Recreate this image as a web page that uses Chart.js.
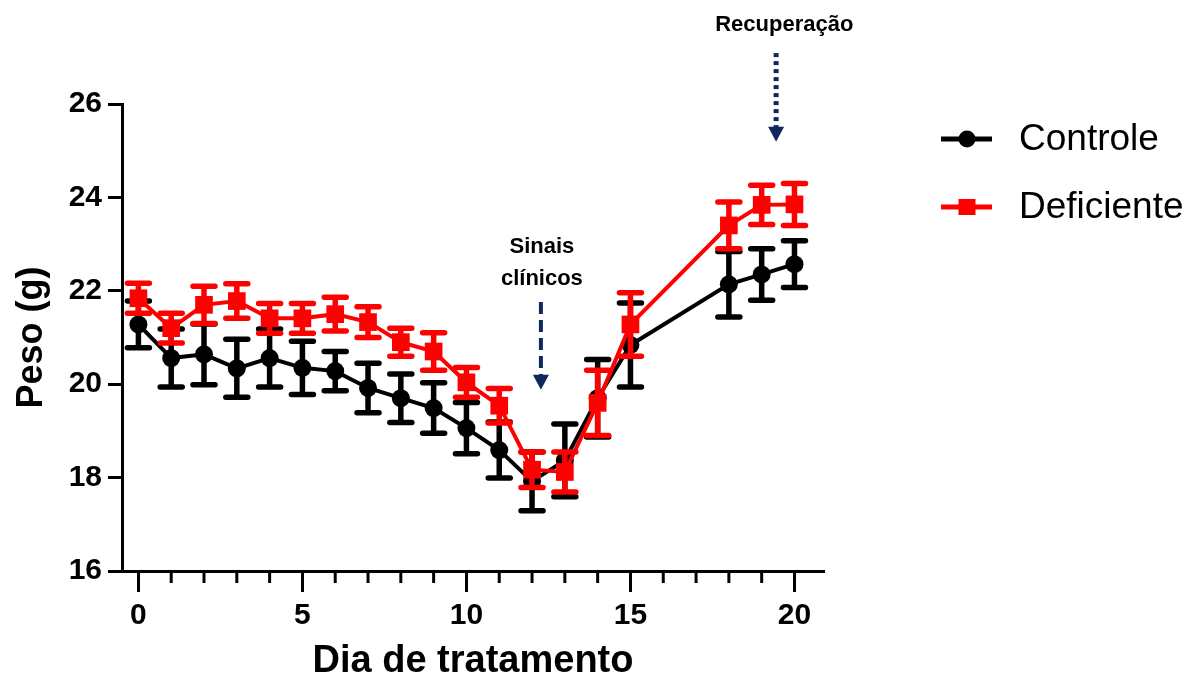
<!DOCTYPE html>
<html lang="pt">
<head>
<meta charset="utf-8">
<title>Peso x Dia de tratamento</title>
<script src="https://cdn.jsdelivr.net/npm/chart.js@4.4.1/dist/chart.umd.min.js"></script>
<style>
  html, body { margin: 0; padding: 0; background: #fff; }
  #wrap { width: 1197px; height: 681px; position: relative; }
</style>
</head>
<body>
<div id="wrap"><canvas id="chart"></canvas></div>
<script>
// values (mean +/- error)
const days = [0, 1, 2, 3, 4, 5, 6, 7, 8, 9, 10, 11, 12, 13, 14, 15, 18, 19, 20];
const controle = [21.28, 20.56, 20.64, 20.34, 20.56, 20.35, 20.28, 19.92, 19.70, 19.49, 19.06, 18.59, 17.92, 18.37, 19.70, 20.84, 22.14, 22.35, 22.57];
const controleErr = [0.50, 0.62, 0.65, 0.62, 0.62, 0.57, 0.42, 0.53, 0.52, 0.54, 0.55, 0.60, 0.63, 0.78, 0.83, 0.90, 0.70, 0.55, 0.50];
const deficiente = [21.84, 21.20, 21.70, 21.78, 21.41, 21.41, 21.50, 21.33, 20.90, 20.70, 20.04, 19.54, 18.17, 18.12, 19.60, 21.28, 23.40, 23.84, 23.85];
const deficienteErr = [0.32, 0.32, 0.40, 0.37, 0.32, 0.32, 0.36, 0.33, 0.30, 0.40, 0.32, 0.37, 0.38, 0.43, 0.70, 0.68, 0.50, 0.42, 0.45];

const xTicks = [0, 1, 2, 3, 4, 5, 6, 7, 8, 9, 10, 11, 12, 13, 14, 15, 16, 17, 18, 19, 20];
const yTicks = [16, 18, 20, 22, 24, 26];
const seriesNames = ["Controle", "Deficiente"];

const FONT = "'Liberation Sans', Arial, sans-serif";
const NAVY = "#10285e";

const toPoints = (vals) => days.map((d, i) => ({ x: d, y: vals[i] }));

// error bars, drawn just under each dataset's own line and markers
const errorBars = {
  id: "errorBars",
  beforeDatasetDraw(chart, args) {
    const ds = chart.data.datasets[args.index];
    const yScale = chart.scales.y;
    const ctx = chart.ctx;
    ctx.save();
    ctx.strokeStyle = ds.borderColor;
    ctx.lineWidth = 5.5;
    ctx.lineCap = "round";
    args.meta.data.forEach((pt, i) => {
      const v = ds.data[i].y;
      const e = ds.errors[i];
      const top = yScale.getPixelForValue(v + e);
      const bot = yScale.getPixelForValue(v - e);
      ctx.beginPath();
      ctx.moveTo(pt.x, top);
      ctx.lineTo(pt.x, bot);
      ctx.moveTo(pt.x - 11, top);
      ctx.lineTo(pt.x + 11, top);
      ctx.moveTo(pt.x - 11, bot);
      ctx.lineTo(pt.x + 11, bot);
      ctx.stroke();
    });
    ctx.restore();
  }
};

function arrow(ctx, x, y1, y2, dash) {
  ctx.save();
  ctx.strokeStyle = NAVY;
  ctx.fillStyle = NAVY;
  ctx.lineWidth = dash[0] < 6 ? 5 : 4;
  ctx.setLineDash(dash);
  ctx.beginPath();
  ctx.moveTo(x, y1);
  ctx.lineTo(x, y2 - 14);
  ctx.stroke();
  ctx.setLineDash([]);
  ctx.beginPath();
  ctx.moveTo(x - 8, y2 - 15);
  ctx.lineTo(x + 8, y2 - 15);
  ctx.lineTo(x, y2);
  ctx.closePath();
  ctx.fill();
  ctx.restore();
}

// minor x ticks, annotations and the legend at the right
const extras = {
  id: "extras",
  afterDraw(chart) {
    const ctx = chart.ctx;
    const xs = chart.scales.x;
    const ys = chart.scales.y;
    const bottom = chart.chartArea.bottom;

    ctx.save();
    ctx.strokeStyle = "#000";
    ctx.lineWidth = 3;
    xs.ticks.forEach((t) => {
      if (t.value % 5 === 0) return;
      const px = xs.getPixelForValue(t.value);
      ctx.beginPath();
      ctx.moveTo(px, bottom);
      ctx.lineTo(px, bottom + 12);
      ctx.stroke();
    });
    ctx.restore();

    // annotations
    ctx.save();
    ctx.fillStyle = "#000";
    ctx.font = "bold 22px " + FONT;
    ctx.textAlign = "center";
    ctx.textBaseline = "middle";
    ctx.fillText("Sinais", xs.getPixelForValue(12.3), ys.getPixelForValue(22.94));
    ctx.fillText("clínicos", xs.getPixelForValue(12.3), ys.getPixelForValue(22.25));
    ctx.fillText("Recuperação", xs.getPixelForValue(19.69), ys.getPixelForValue(27.69));
    ctx.restore();
    arrow(ctx, xs.getPixelForValue(12.27), ys.getPixelForValue(21.76), ys.getPixelForValue(19.88), [12, 6]);
    arrow(ctx, xs.getPixelForValue(19.44), ys.getPixelForValue(27.09), ys.getPixelForValue(25.19), [4, 4]);

    // legend
    chart.data.datasets.forEach((ds, i) => {
      const ly = 139 + i * 68;
      ctx.save();
      ctx.strokeStyle = ds.borderColor;
      ctx.fillStyle = ds.borderColor;
      ctx.lineWidth = 5;
      ctx.beginPath();
      ctx.moveTo(941, ly);
      ctx.lineTo(992, ly);
      ctx.stroke();
      if (ds.pointStyle === "circle") {
        ctx.beginPath();
        ctx.arc(967, ly, 8.5, 0, Math.PI * 2);
        ctx.fill();
      } else {
        ctx.fillRect(958.5, ly - 8, 17, 16);
      }
      ctx.fillStyle = "#000";
      ctx.font = "37px " + FONT;
      ctx.textAlign = "left";
      ctx.textBaseline = "middle";
      ctx.fillText(ds.label, 1019, ly + 1);
      ctx.restore();
    });
  }
};

new Chart(document.getElementById("chart"), {
  type: "line",
  data: {
    datasets: [
      {
        label: seriesNames[0],
        data: toPoints(controle),
        errors: controleErr,
        borderColor: "#000000",
        backgroundColor: "#000000",
        borderWidth: 4,
        pointStyle: "circle",
        pointRadius: 9,
        pointBorderWidth: 0,
        pointBackgroundColor: "#000000",
        tension: 0,
        order: 2
      },
      {
        label: seriesNames[1],
        data: toPoints(deficiente),
        errors: deficienteErr,
        borderColor: "#ff0000",
        backgroundColor: "#ff0000",
        borderWidth: 4,
        pointStyle: "rect",
        pointRadius: 12.5,
        pointBorderWidth: 0,
        pointBackgroundColor: "#ff0000",
        tension: 0,
        order: 1
      }
    ]
  },
  options: {
    responsive: true,
    maintainAspectRatio: false,
    animation: false,
    events: [],
    layout: { padding: { top: 104, right: 373, left: 0, bottom: 0 } },
    plugins: {
      legend: { display: false },
      tooltip: { enabled: false }
    },
    scales: {
      x: {
        type: "linear",
        min: -0.5,
        max: 20.9,
        afterBuildTicks: (s) => { s.ticks = xTicks.map((v) => ({ value: v })); },
        afterFit: (s) => { s.height = 110; },
        border: { display: true, color: "#000", width: 3 },
        grid: {
          drawOnChartArea: false,
          drawTicks: true,
          tickLength: 21,
          tickWidth: 3,
          tickColor: (c) => (c.tick && c.tick.value % 5 === 0 ? "#000" : "rgba(0,0,0,0)")
        },
        ticks: {
          autoSkip: false,
          maxRotation: 0,
          padding: 6,
          color: "#000",
          font: { family: FONT, size: 30, weight: "bold" },
          callback: (v) => (v % 5 === 0 ? String(v) : "")
        },
        title: {
          display: true,
          text: "Dia de tratamento",
          color: "#000",
          padding: { top: 0, bottom: 0 },
          font: { family: FONT, size: 38, weight: "bold", lineHeight: 1 }
        }
      },
      y: {
        type: "linear",
        min: 16,
        max: 26,
        afterBuildTicks: (s) => { s.ticks = yTicks.map((v) => ({ value: v })); },
        afterFit: (s) => { s.width = 122; },
        border: { display: true, color: "#000", width: 3 },
        grid: {
          drawOnChartArea: false,
          drawTicks: true,
          tickLength: 14,
          tickWidth: 3,
          tickColor: "#000"
        },
        ticks: {
          padding: 6,
          color: "#000",
          font: { family: FONT, size: 30, weight: "bold" }
        },
        title: {
          display: true,
          text: "Peso (g)",
          color: "#000",
          padding: { top: 10, bottom: 0 },
          font: { family: FONT, size: 36, weight: "bold" }
        }
      }
    }
  },
  plugins: [errorBars, extras]
});
</script>
</body>
</html>
